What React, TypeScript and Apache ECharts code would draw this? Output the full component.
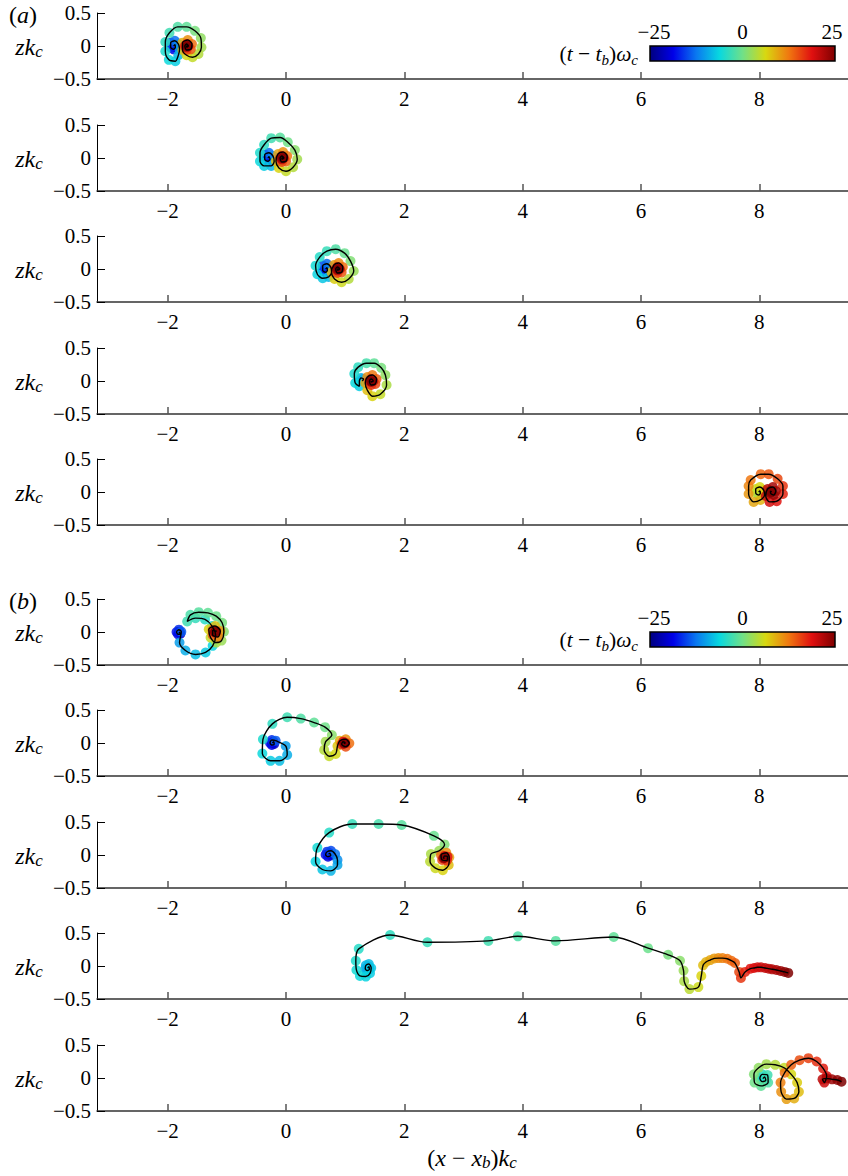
import React, { useEffect, useRef } from "react";
import * as echarts from "echarts";

type P = [number, number, number]; // [ (x-x_b)k_c , z k_c , (t-t_b)ω_c ]

const a1: P[] = [
  [-1.9, 0, -25], [-1.88, 0.02, -23], [-1.87, -0.02, -21], [-1.9, -0.05, -19], [-1.95, -0.02, -17],
  [-1.95, 0.05, -15], [-1.88, 0.08, -13], [-1.82, 0.03, -11.5], [-1.8, -0.05, -10], [-1.82, -0.14, -8.5],
  [-1.87, -0.23, -7], [-1.98, -0.21, -6], [-2.04, -0.08, -5], [-2.04, 0.06, -4], [-1.97, 0.2, -3],
  [-1.83, 0.29, -2], [-1.68, 0.29, -1], [-1.54, 0.23, 0.5], [-1.44, 0.12, 2], [-1.43, -0.02, 3],
  [-1.48, -0.12, 4], [-1.58, -0.17, 5], [-1.68, -0.14, 6], [-1.75, -0.06, 7.5], [-1.75, 0.05, 9],
  [-1.66, 0.09, 11], [-1.59, 0.03, 13], [-1.61, -0.05, 14.5], [-1.68, -0.06, 16], [-1.71, 0, 17.5],
  [-1.68, 0.03, 19], [-1.65, 0, 20.5], [-1.68, -0.02, 22], [-1.68, 0, 23.5], [-1.66, 0, 25],
];

const a2: P[] = [
  [-0.305, 0, -25], [-0.29, 0.02, -23], [-0.27, -0.02, -21], [-0.305, -0.05, -19], [-0.36, -0.02, -17],
  [-0.36, 0.05, -15], [-0.29, 0.08, -13], [-0.22, 0.03, -11.5], [-0.2, -0.05, -10], [-0.25, -0.12, -8.5],
  [-0.37, -0.12, -7], [-0.44, -0.05, -6], [-0.44, 0.08, -5], [-0.37, 0.2, -4], [-0.25, 0.3, -3],
  [-0.1, 0.31, -1.5], [0.03, 0.24, 0], [0.15, 0.12, 1.5], [0.19, -0.02, 3], [0.12, -0.14, 4],
  [0.0, -0.2, 5], [-0.12, -0.15, 6.5], [-0.17, -0.05, 8], [-0.135, 0.06, 9.5], [-0.05, 0.09, 11],
  [0.02, 0.03, 12.5], [0.0, -0.05, 14], [-0.07, -0.06, 15.5], [-0.1, 0, 17], [-0.07, 0.03, 18.5],
  [-0.035, 0, 20], [-0.07, -0.02, 21.5], [-0.07, 0, 23], [-0.05, 0, 25],
];

const a3: P[] = [
  [0.67, 0, -25], [0.69, 0.02, -23], [0.7, -0.02, -21], [0.67, -0.05, -19], [0.62, -0.02, -17],
  [0.62, 0.05, -15], [0.69, 0.08, -13], [0.755, 0.03, -11.5], [0.77, -0.05, -10], [0.72, -0.12, -8.5],
  [0.62, -0.14, -7.5], [0.53, -0.08, -6.5], [0.5, 0.05, -5.5], [0.57, 0.18, -4.5], [0.69, 0.27, -3.5],
  [0.84, 0.3, -2], [0.99, 0.24, -0.5], [1.09, 0.12, 1], [1.145, -0.03, 2.5], [1.06, -0.15, 4],
  [0.94, -0.2, 5.5], [0.82, -0.15, 7], [0.77, -0.05, 8.5], [0.81, 0.06, 10], [0.89, 0.09, 11.5],
  [0.96, 0.03, 13], [0.94, -0.05, 14.5], [0.87, -0.06, 16], [0.84, 0, 17.5], [0.87, 0.03, 19],
  [0.91, 0, 20.5], [0.87, -0.02, 22], [0.87, 0, 23.5], [0.89, 0, 25],
];

const a4: P[] = [
  [1.29, 0, -11], [1.31, 0.03, -10], [1.27, 0.045, -9], [1.24, 0, -8], [1.24, -0.08, -7],
  [1.17, -0.03, -6], [1.155, 0.11, -5], [1.22, 0.21, -4], [1.36, 0.27, -2.5], [1.49, 0.27, -1],
  [1.61, 0.2, 0.5], [1.68, 0.09, 2], [1.7, -0.06, 3.5], [1.595, -0.2, 5], [1.46, -0.23, 6.5],
  [1.375, -0.14, 8], [1.34, -0.03, 9.5], [1.375, 0.06, 11], [1.46, 0.09, 12.5], [1.53, 0.03, 14],
  [1.51, -0.045, 15.5], [1.44, -0.06, 17], [1.41, 0, 18.5], [1.44, 0.03, 20], [1.475, 0, 21.5],
  [1.44, -0.015, 23], [1.44, 0, 25],
];

const a5: P[] = [
  [7.99, 0, 0], [8.01, 0.015, 1], [8.02, -0.015, 2], [7.99, -0.045, 3], [7.94, -0.015, 4],
  [7.94, 0.045, 5], [8.01, 0.076, 6], [8.075, 0.03, 7], [8.09, -0.045, 7.5], [8.02, -0.12, 8.5],
  [7.905, -0.15, 9.5], [7.82, -0.03, 10.5], [7.82, 0.09, 11.5], [7.855, 0.18, 12.5], [8.025, 0.27, 13.5],
  [8.16, 0.27, 14.5], [8.31, 0.2, 15.5], [8.4, 0.09, 16.5], [8.4, -0.03, 17.5], [8.295, -0.14, 18.5],
  [8.175, -0.15, 19.5], [8.11, -0.06, 20.5], [8.14, 0.045, 21.5], [8.23, 0.076, 22.5], [8.28, 0.015, 23],
  [8.245, -0.045, 23.5], [8.19, -0.015, 24], [8.19, 0.015, 24.5], [8.21, 0, 25],
];

const b1: P[] = [
  [-1.81, 0, -25], [-1.8, 0.005, -23], [-1.785, -0.025, -21], [-1.825, -0.035, -19.5], [-1.85, 0, -18],
  [-1.81, 0.035, -16.5], [-1.77, 0.005, -14], [-1.8, -0.16, -10], [-1.7, -0.28, -9], [-1.53, -0.34, -8],
  [-1.36, -0.31, -7.2], [-1.24, -0.21, -6.5], [-1.19, -0.06, -5.8], [-1.25, 0.09, -5], [-1.37, 0.19, -4.3],
  [-1.53, 0.21, -3.6], [-1.67, 0.16, -3], [-1.615, 0.26, -2.3], [-1.475, 0.3, -1.6], [-1.32, 0.29, -0.9],
  [-1.18, 0.24, -0.2], [-1.08, 0.14, 0.5], [-1.05, 0.005, 1.5], [-1.09, -0.13, 2.5], [-1.18, -0.16, 3.5],
  [-1.275, -0.085, 5], [-1.305, 0.04, 6.5], [-1.2, 0.09, 8], [-1.11, 0.015, 10], [-1.15, -0.075, 12],
  [-1.24, -0.045, 14], [-1.24, 0.025, 16], [-1.18, 0.015, 18], [-1.2, -0.01, 20], [-1.2, 0.005, 22.5],
  [-1.2, 0, 25],
];

const b2: P[] = [
  [-0.23, 0, -25], [-0.21, 0.02, -23], [-0.2, -0.015, -21], [-0.24, -0.03, -19.5], [-0.27, 0, -18],
  [-0.24, 0.045, -16.5], [-0.175, 0.035, -14], [-0.005, -0.045, -10], [0.02, -0.18, -9], [-0.11, -0.27, -8],
  [-0.26, -0.27, -7], [-0.4, -0.16, -6], [-0.39, 0.055, -5], [-0.23, 0.29, -4], [0.02, 0.39, -3],
  [0.25, 0.37, -2], [0.475, 0.31, -1], [0.66, 0.24, 0], [0.775, 0.12, 1.5], [0.67, 0.02, 3],
  [0.645, -0.105, 4], [0.73, -0.2, 5], [0.84, -0.165, 6], [0.87, -0.045, 7.5], [0.91, 0.035, 9],
  [1.01, 0.055, 11], [1.07, -0.005, 13], [1.01, -0.055, 15], [0.94, -0.02, 17], [0.966, 0.02, 19],
  [1.0, 0, 21], [0.98, -0.01, 23], [0.99, 0, 25],
];

const b3: P[] = [
  [0.72, 0.01, -25], [0.74, 0.025, -23], [0.757, -0.005, -21], [0.71, -0.025, -19.5], [0.67, 0.005, -18],
  [0.695, 0.05, -16.5], [0.76, 0.065, -15], [0.83, 0.015, -12.5], [0.87, -0.075, -11], [0.87, -0.15, -9.5],
  [0.757, -0.24, -8.5], [0.615, -0.22, -7.5], [0.5, -0.1, -6.5], [0.53, 0.11, -5.5], [0.73, 0.34, -4.5],
  [1.12, 0.47, -3.5], [1.565, 0.47, -2.5], [1.955, 0.455, -1.5], [2.5, 0.29, -0.5], [2.68, 0.16, 1],
  [2.59, 0.065, 2.5], [2.45, 0.015, 3.5], [2.435, -0.1, 4.5], [2.525, -0.2, 5.5], [2.65, -0.23, 6.5],
  [2.75, -0.15, 8], [2.76, -0.035, 9.5], [2.71, 0.035, 11], [2.62, 0, 13], [2.64, -0.075, 15],
  [2.72, -0.085, 17], [2.73, -0.025, 18.5], [2.68, -0.015, 20], [2.66, -0.05, 22], [2.68, -0.04, 25],
];

const b4: P[] = [
  [1.38, -0.03, -11], [1.4, -0.01, -10.5], [1.41, -0.05, -10], [1.37, -0.07, -9.5], [1.34, -0.04, -9],
  [1.35, 0.01, -8.5], [1.4, 0.03, -8], [1.44, -0.03, -7.5], [1.42, -0.11, -7], [1.35, -0.16, -6.5],
  [1.25, -0.15, -6], [1.19, -0.06, -5.5], [1.18, 0.08, -5], [1.23, 0.26, -4.5], [1.76, 0.47, -4],
  [2.39, 0.36, -3.4], [3.42, 0.38, -2.8], [3.92, 0.45, -2.2], [4.56, 0.38, -1.6], [5.54, 0.44, -1],
  [6.12, 0.27, -0.3], [6.46, 0.17, 0.5], [6.66, 0.08, 1.5], [6.72, -0.07, 2.5], [6.73, -0.23, 3.5],
  [6.82, -0.35, 4.5], [6.97, -0.32, 5.5], [7.02, -0.15, 6.5], [7.05, 0.01, 8], [7.1, 0.06, 8.7],
  [7.17, 0.09, 9.5], [7.24, 0.115, 10.2], [7.31, 0.12, 11], [7.38, 0.12, 11.7], [7.46, 0.11, 12.5],
  [7.53, 0.08, 13.2], [7.59, 0.045, 14], [7.66, -0.09, 15.5], [7.69, -0.18, 16.5], [7.76, -0.09, 17.5],
  [7.85, -0.04, 18.5], [7.91, -0.03, 19], [7.97, -0.02, 19.5], [8.03, -0.02, 20], [8.1, -0.03, 20.5],
  [8.16, -0.04, 21], [8.22, -0.05, 21.5], [8.29, -0.06, 22], [8.36, -0.075, 23], [8.43, -0.09, 24],
  [8.49, -0.105, 25],
];

const b5: P[] = [
  [8.06, -0.01, -8], [8.09, 0.015, -7.5], [8.11, -0.035, -7], [8.05, -0.055, -6], [8.01, -0.005, -5],
  [8.05, 0.055, -4], [8.14, 0.045, -3], [8.15, -0.07, -2], [8.03, -0.12, -1], [7.92, -0.07, 0],
  [7.91, 0.055, 1], [7.99, 0.155, 2], [8.12, 0.21, 3], [8.27, 0.2, 4], [8.42, 0.155, 5],
  [8.54, 0.055, 6], [8.64, -0.07, 7], [8.67, -0.21, 8], [8.59, -0.31, 9], [8.46, -0.32, 10],
  [8.37, -0.21, 11], [8.36, -0.07, 12], [8.43, 0.08, 13], [8.54, 0.2, 14], [8.68, 0.27, 15],
  [8.83, 0.3, 16], [8.97, 0.25, 17], [9.08, 0.145, 18], [9.14, 0.03, 19], [9.1, -0.07, 20],
  [9.07, -0.02, 21], [9.14, -0.005, 22], [9.23, -0.02, 23], [9.32, -0.03, 24], [9.39, -0.055, 25],
];

const panels: P[][] = [a1, a2, a3, a4, a5, b1, b2, b3, b4, b5];
const xTicks = [-2, 0, 2, 4, 6, 8];
const yTicks = [-0.5, 0, 0.5];
const colorTicks = [-25, 0, 25];
const jet = ["#00007f", "#0000e8", "#0a78f0", "#08d8e0", "#70e088", "#d8d810", "#f07810", "#e01010", "#7f0000"];

const panelTops = [13, 125, 236, 348, 459, 599, 710, 822, 933, 1045];
const PANEL_H = 66;
const LEFT = 97;
const WIDTH = 751;
const XMIN = -3.195;
const XMAX = 9.5;
const serif = "Liberation Serif";

const fmt = (v: number) => (v < 0 ? "\u2212" + String(-v) : String(v));

const rich = (S: number) => ({
  n: { fontSize: S, fontFamily: serif, lineHeight: 26, fill: "#000" },
  i: { fontSize: S, fontFamily: serif, fontStyle: "italic", lineHeight: 26, fill: "#000" },
  s: { fontSize: Math.round(S * 0.7), fontFamily: serif, fontStyle: "italic", lineHeight: 15, verticalAlign: "bottom", fill: "#000" },
});

function txt(x: number, y: number, text: string, size: number, align = "center") {
  return {
    type: "text",
    x,
    y,
    silent: true,
    style: { text, rich: rich(size), align, verticalAlign: "middle", fontFamily: serif, fontSize: size, fill: "#000" },
  };
}

function colorbar(yOff: number) {
  const x0 = 650;
  const w = 185;
  const items: any[] = [
    {
      type: "rect",
      shape: { x: x0, y: 46 + yOff, width: w, height: 15 },
      style: {
        fill: {
          type: "linear", x: 0, y: 0, x2: 1, y2: 0,
          colorStops: jet.map((c, i) => ({ offset: i / (jet.length - 1), color: c })),
        },
        stroke: "#000",
        lineWidth: 1.5,
      },
      silent: true,
    },
  ];
  colorTicks.forEach((v) => {
    items.push({
      type: "text",
      x: x0 + ((v + 25) / 50) * w + (v < 0 ? 4 : v > 0 ? -3 : 0),
      y: 32 + yOff,
      silent: true,
      style: { text: fmt(v), fontFamily: serif, fontSize: 21, fill: "#000", align: "center", verticalAlign: "middle" },
    });
  });
  items.push(txt(638, 54 + yOff, "{n|(}{i|t}{n| \u2212 }{i|t}{s|b}{n|)}{i|\u03c9}{s|c}", 21.5, "right"));
  return items;
}

export default function App() {
  const ref = useRef<HTMLDivElement>(null);
  useEffect(() => {
    if (!ref.current) return;
    const chart = echarts.init(ref.current, undefined, { renderer: "svg" });
    const axisText = { fontFamily: serif, fontSize: 21, color: "#000" };
    const grid = panelTops.map((t) => ({ left: LEFT, top: t, width: WIDTH, height: PANEL_H }));
    const xAxis = panels.map((_, i) => ({
      type: "value",
      gridIndex: i,
      min: XMIN,
      max: XMAX,
      axisLine: { show: true, onZero: false, lineStyle: { color: "#333", width: 1.5 } },
      axisTick: { show: true, inside: true, length: 7, customValues: xTicks, lineStyle: { color: "#555", width: 1.5 } },
      axisLabel: { ...axisText, customValues: xTicks, formatter: fmt, margin: 9 },
      splitLine: { show: false },
    }));
    const yAxis = panels.map((_, i) => ({
      type: "value",
      gridIndex: i,
      min: -0.5,
      max: 0.5,
      interval: 0.5,
      axisLine: { show: true, onZero: false, lineStyle: { color: "#000", width: 1 } },
      axisTick: { show: true, inside: true, length: 8, customValues: yTicks, lineStyle: { color: "#000", width: 1 } },
      axisLabel: { ...axisText, customValues: yTicks, formatter: fmt, margin: 6 },
      splitLine: { show: false },
    }));
    const series: any[] = [];
    const scatterIdx: number[] = [];
    panels.forEach((pts, i) => {
      scatterIdx.push(series.length);
      series.push({
        type: "scatter",
        xAxisIndex: i,
        yAxisIndex: i,
        data: pts,
        symbolSize: 10,
        itemStyle: { opacity: 0.85 },
        silent: true,
        z: 2,
      });
      series.push({
        type: "line",
        xAxisIndex: i,
        yAxisIndex: i,
        data: pts.map((p) => [p[0], p[1]]),
        showSymbol: false,
        symbol: "none",
        smooth: 0.3,
        lineStyle: { color: "#000", width: 1.4 },
        silent: true,
        z: 3,
      });
    });
    const graphic: any[] = [
      txt(23, 15, "{n|(}{i|a}{n|)}", 24),
      txt(23, 601, "{n|(}{i|b}{n|)}", 24),
      txt(472, 1158, "{n|(}{i|x}{n| \u2212 }{i|x}{s|b}{n|)}{i|k}{s|c}", 24),
      ...colorbar(0),
      ...colorbar(586),
    ];
    panelTops.forEach((t) => graphic.push(txt(29, t + 34, "{i|zk}{s|c}", 24)));
    chart.setOption({
      animation: false,
      backgroundColor: "#fff",
      grid,
      xAxis,
      yAxis,
      visualMap: {
        type: "continuous",
        show: false,
        min: -25,
        max: 25,
        dimension: 2,
        seriesIndex: scatterIdx,
        inRange: { color: jet },
      },
      series,
      graphic,
    });
    return () => chart.dispose();
  }, []);
  return <div ref={ref} style={{ position: "absolute", left: 0, top: 0, width: 848, height: 1176 }} />;
}
